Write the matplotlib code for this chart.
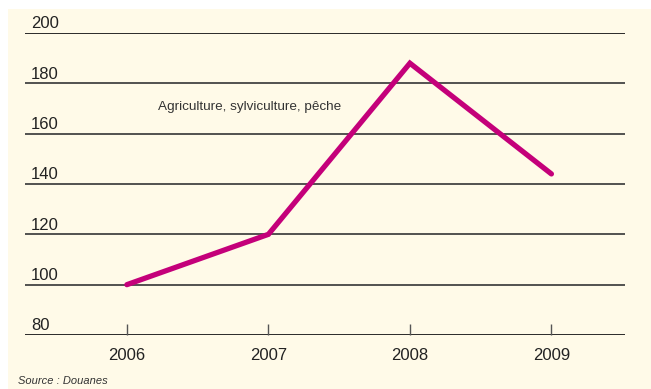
import matplotlib.pyplot as plt
from matplotlib.patches import Rectangle
import matplotlib.transforms as mtransforms

plt.rcParams['font.family'] = ['Liberation Sans', 'DejaVu Sans']

years = [2006, 2007, 2008, 2009]
values = [100, 120, 188, 144]
yticks = [80, 100, 120, 140, 160, 180, 200]
series_label = 'Agriculture, sylviculture, pêche'
source = 'Source : Douanes'

W, H = 651, 389
fig = plt.figure(figsize=(W / 100, H / 100), dpi=100, facecolor='white')
# cream panel behind everything
fig.patches.append(Rectangle((8 / W, 0), 1 - 8 / W, 1 - 9 / H, transform=fig.transFigure,
                             facecolor='#FFFAE8', edgecolor='none', zorder=-10))

ax = fig.add_axes([25 / W, 1 - 335 / H, 600 / W, 302 / H])
ax.patch.set_visible(False)
ax.set_xlim(2005.28, 2009.52)
ax.set_ylim(80, 200)

for s in ax.spines.values():
    s.set_visible(False)

ylab_tr = mtransforms.blended_transform_factory(ax.transAxes, ax.transData)
for v in yticks:
    col = '#1a1a1a' if v in (80, 200) else '#444444'
    ax.axhline(v, color=col, lw=1.3, zorder=1)
    ax.text(6 / 600, v + 0.6, str(v), transform=ylab_tr,
            ha='left', va='bottom', fontsize=12, color='#222222')

ax.set_yticks([])
ax.set_xticks(years)
ax.set_xticklabels([str(y) for y in years], fontsize=12, color='#222222')
ax.tick_params(axis='x', direction='in', length=8, width=1, color='#555555', pad=9)

ax.plot(years, values, color='#C4007A', lw=3.8, solid_joinstyle='miter',
        solid_capstyle='round', zorder=3)

ax.text(2006.22, 170.5, series_label, fontsize=9.7, color='#333333', va='center', ha='left')

fig.text(18 / W, 1 - 381 / H, source, fontsize=8, style='italic', color='#333333', va='center')

fig.savefig('out.png', dpi=100, facecolor='white')
